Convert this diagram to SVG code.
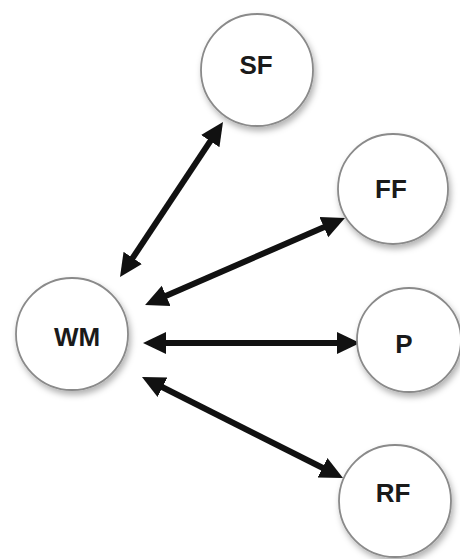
<svg xmlns="http://www.w3.org/2000/svg" width="460" height="559" viewBox="0 0 460 559">
<style>
.node circle{fill:#fff;stroke:#8a8a8a;stroke-width:1.8;filter:url(#sh)}
.node text{font-family:"Liberation Sans",Arial,sans-serif;font-weight:bold;font-size:26px;fill:#1a1a1a;text-anchor:middle;dominant-baseline:central}
.conn line{stroke:#111;stroke-width:6;marker-start:url(#ah);marker-end:url(#ah)}
</style>
<defs>
<filter id="sh" x="-30%" y="-30%" width="160%" height="160%">
<feDropShadow dx="2" dy="4" stdDeviation="3" flood-color="#000" flood-opacity="0.3"/>
</filter>
<marker id="ah" markerUnits="userSpaceOnUse" markerWidth="26" markerHeight="24" refX="10" refY="11" orient="auto-start-reverse" viewBox="0 0 26 22">
<path d="M0,0 L23,11 L0,22 z" fill="#111"/>
</marker>
</defs>
<rect width="460" height="559" fill="#fff"/>
<g class="conn" id="connectors">
<line x1="127.2" y1="266.2" x2="215.8" y2="132.8"/>
<line x1="157.0" y1="299.8" x2="333.0" y2="223.2"/>
<line x1="156" y1="343" x2="347" y2="343"/>
<line x1="153.6" y1="382.8" x2="331.4" y2="472.2"/>
</g>
<g class="node" id="SF"><circle cx="257" cy="70" r="56"/><text x="256" y="65">SF</text></g>
<g class="node" id="FF"><circle cx="393" cy="189" r="55"/><text x="391" y="189">FF</text></g>
<g class="node" id="WM"><circle cx="72" cy="334" r="56"/><text x="77" y="337">WM</text></g>
<g class="node" id="P"><circle cx="409" cy="340" r="52"/><text x="404" y="344">P</text></g>
<g class="node" id="RF"><circle cx="395" cy="501" r="56"/><text x="393" y="493">RF</text></g>
</svg>
